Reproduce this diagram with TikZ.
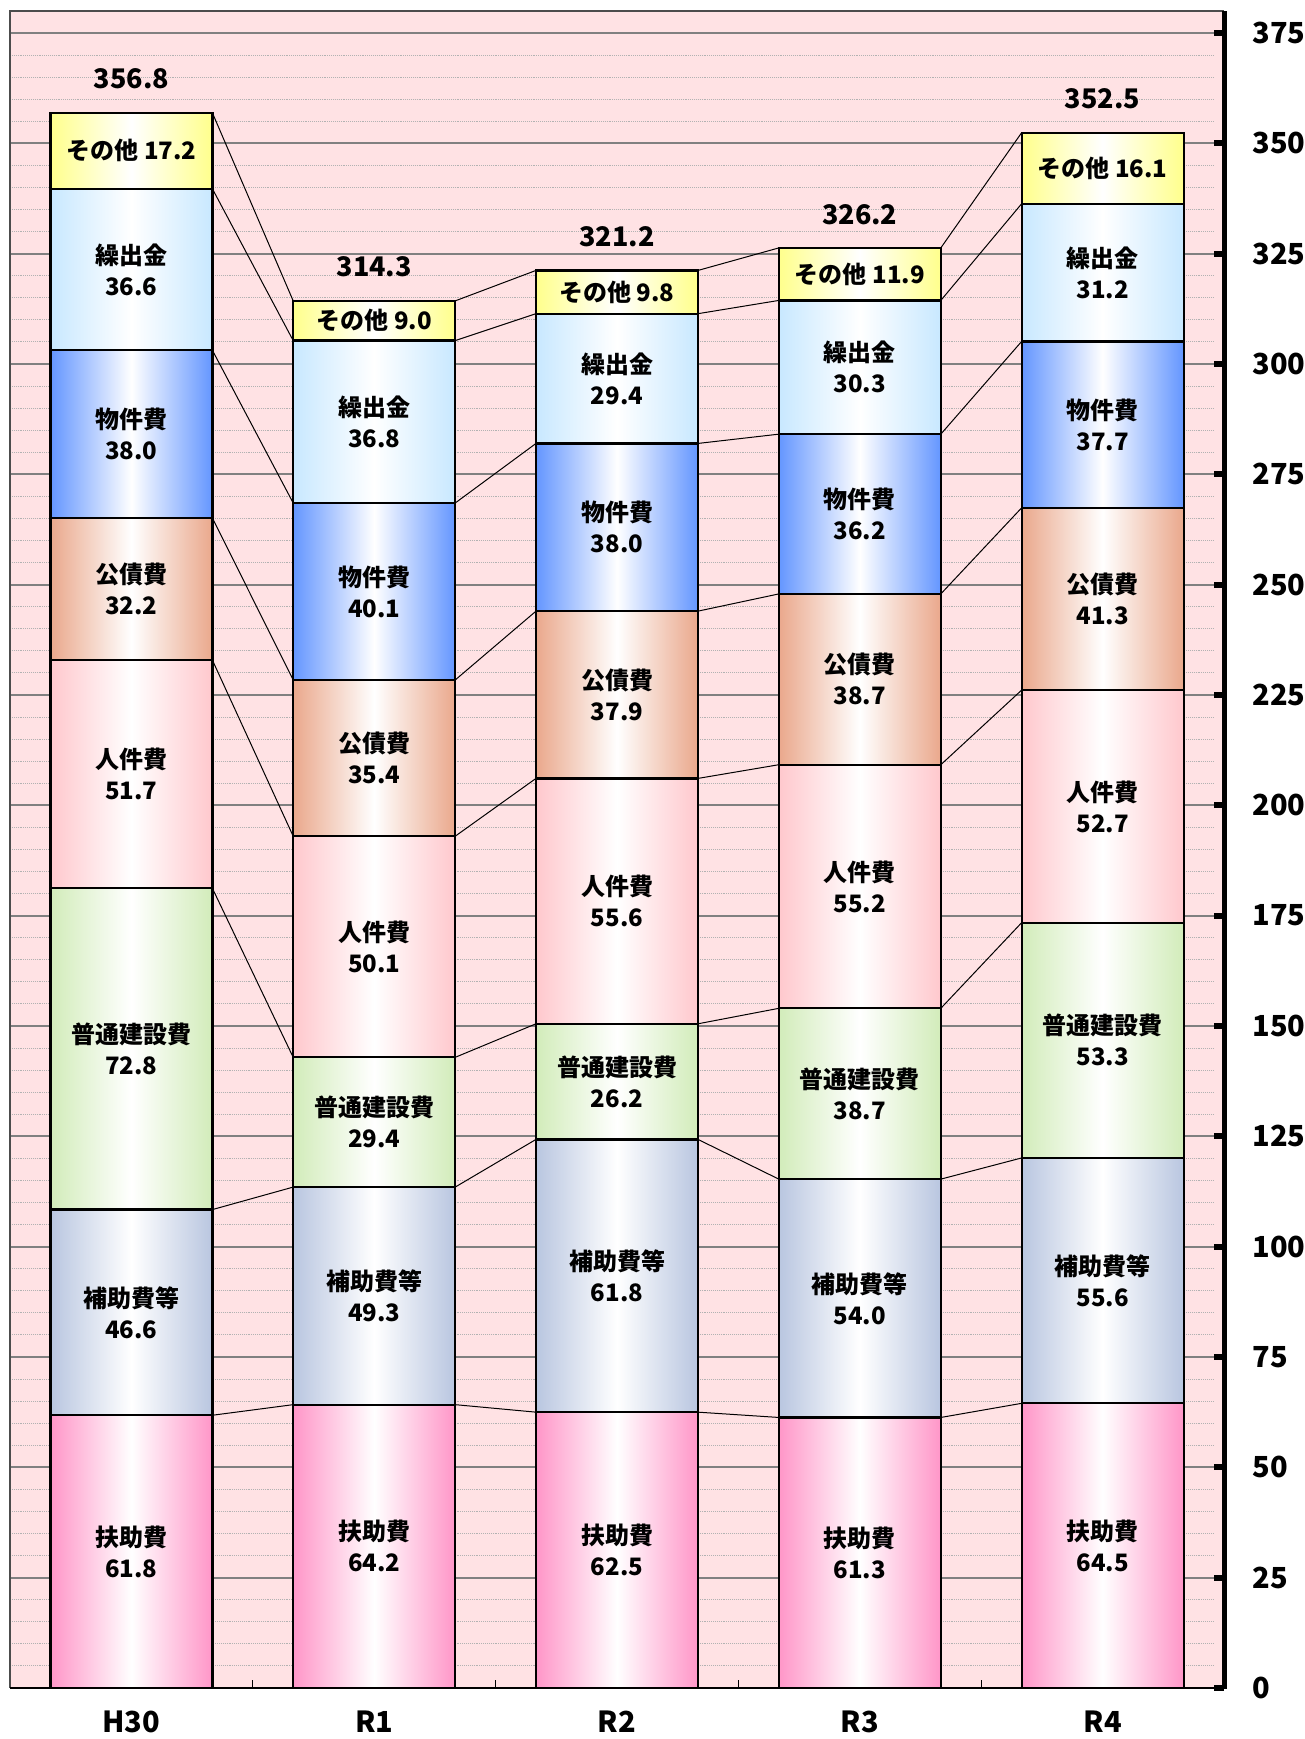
\documentclass[tikz,border=0pt]{standalone}
\usepackage{fontspec}
\setmainfont{Noto Sans CJK JP}
\usepackage{tikz}
\usetikzlibrary{arrows,positioning}

\definecolor{plotbg}{RGB}{255,226,228}
\definecolor{seg1}{RGB}{255,150,200}
\definecolor{seg2}{RGB}{185,198,224}
\definecolor{seg3}{RGB}{210,236,186}
\definecolor{seg4}{RGB}{255,200,205}
\definecolor{seg5}{RGB}{234,168,140}
\definecolor{seg6}{RGB}{100,150,255}
\definecolor{seg7}{RGB}{200,232,255}
\definecolor{seg8}{RGB}{255,255,140}

\newcommand{\segname}[1]{\ifcase#1\or 扶助費\or 補助費等\or 普通建設費\or 人件費\or 公債費\or 物件費\or 繰出金\or その他\fi}

\begin{document}
\begin{tikzpicture}[x=1pt,y=1pt,
		segbox/.style={draw=black,line width=2.2pt,left color=#1,right color=#1,middle color=white},
		seglabel/.style={font=\bfseries\fontsize{24}{31}\selectfont,align=center},
		totlabel/.style={font=\bfseries\fontsize{27}{30}\selectfont},
		axlabel/.style={font=\bfseries\fontsize{29}{32}\selectfont},
		serline/.style={black,line width=1pt},
		mingrid/.style={gray!60,densely dotted,line width=0.9pt},
		majgrid/.style={gray,line width=2pt}]
	\useasboundingbox (0,0) rectangle (1305,1739);
	
	\begin{scope}[yshift=51pt,y=4.4133pt]
		% plot area and grid
		\fill[plotbg] (10,0) rectangle (1224,380);
		\foreach \g in {5,10,...,375}
			\draw[mingrid] (10,\g) -- (1214,\g);
		\foreach \g in {25,50,...,375}
			\draw[majgrid] (10,\g) -- (1214,\g);
		\draw[black!70,line width=1.2pt] (10,0) -- (10,380) -- (1224,380);
		
		% stacked bars
		\foreach \cx/\cat/\vals [count=\i] in {
				131.4/H30/{61.8,46.6,72.8,51.7,32.2,38.0,36.6,17.2},
				374.2/R1/{64.2,49.3,29.4,50.1,35.4,40.1,36.8,9.0},
				617.0/R2/{62.5,61.8,26.2,55.6,37.9,38.0,29.4,9.8},
				859.8/R3/{61.3,54.0,38.7,55.2,38.7,36.2,30.3,11.9},
				1102.6/R4/{64.5,55.6,53.3,52.7,41.3,37.7,31.2,16.1}}{
			\gdef\cum{0}
			\foreach \v [count=\j] in \vals {
				\pgfmathsetmacro\lo{\cum}
				\pgfmathsetmacro\hi{\cum+\v}
				\xdef\cum{\hi}
				\draw[segbox=seg\j] ({\cx-81},\lo) rectangle ({\cx+81},\hi);
				\coordinate (c\i-\j-l) at ({\cx-81},\hi);
				\coordinate (c\i-\j-r) at ({\cx+81},\hi);
				\coordinate (top\i) at (\cx,\hi);
				\ifnum\j=8
					\node[seglabel] (lab\i-\j) at (\cx,{(\lo+\hi)/2}) {\segname{\j} \v};
				\else
					\node[seglabel] (lab\i-\j) at (\cx,{(\lo+\hi)/2}) {\segname{\j}\\\v};
				\fi
			}
			\node[axlabel] (cat\i) at (\cx,-7.7) {\cat};
		}
		
		% series lines
		\foreach \i [evaluate=\i as \k using int(\i+1)] in {1,...,4}
			\foreach \j in {1,...,8}
				\draw[serline] (c\i-\j-r) -- (c\k-\j-l);
		
		% totals
		\foreach \i/\tot in {1/356.8,2/314.3,3/321.2,4/326.2,5/352.5}
			\node[totlabel,above=20pt of top\i] (tot\i) {\tot};
		
		% axes
		\draw[black,line width=2pt] (10,0) -- (1224,0);
		\foreach \k in {1,...,4}
			\draw[black,line width=1pt] ({10+242.8*\k},0) -- ++(0,1.8);
		\draw[black,line width=5pt] (1224,-0.3) -- (1224,380);
		\foreach \t in {0,25,...,375}{
			\draw[black,line width=6pt] (1214,\t) -- (1224,\t);
			\node[axlabel,anchor=west] (ax\t) at (1249,\t) {\t};
		}
	\end{scope}
\end{tikzpicture}
\end{document}
